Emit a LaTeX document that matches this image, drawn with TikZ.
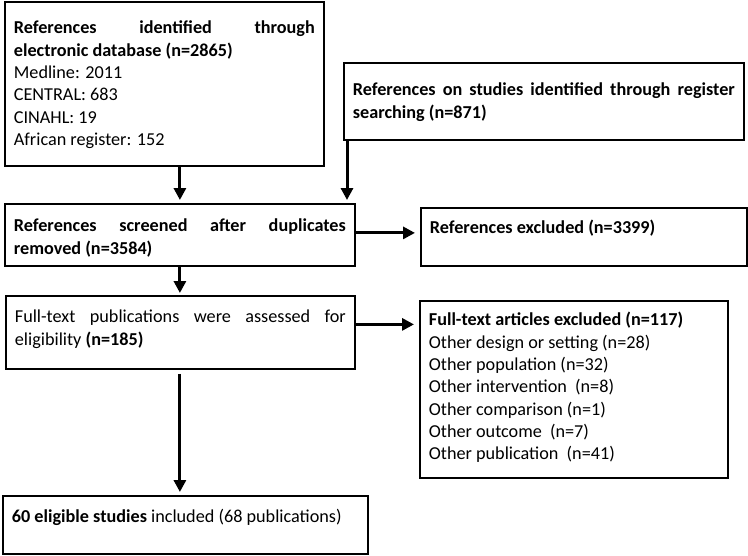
\documentclass[tikz,border=0pt]{standalone}
\usepackage{fontspec}
\setmainfont{Carlito}
\usetikzlibrary{arrows.meta}

\begin{document}
\begin{tikzpicture}[x=1pt,y=-1pt,
	box/.style={draw, line width=1.8pt, anchor=north west, inner xsep=9pt, inner ysep=0pt, align=justify, font=\fontsize{18.2pt}{22.3pt}\selectfont},
	arr/.style={line width=3pt, -{Triangle[length=12pt,width=12pt]}}]
\useasboundingbox (0,0) rectangle (748,555);
\node[box, text width=301pt, text height=32pt, text depth=132pt] (db) at (4,1)
	{\textbf{References identified through\linebreak electronic database (n=2865)}\\ Medline: 2011\\ CENTRAL: 683\\ CINAHL: 19\\ African register: 152};
\node[box, text width=382pt, text height=33pt, text depth=44pt] (reg) at (343,62)
	{\textbf{References on studies identified through register\linebreak searching (n=871)}};
\node[box, text width=332pt, text height=28pt, text depth=34pt] (scr) at (4,203)
	{\textbf{References screened after duplicates\linebreak removed (n=3584)}};
\node[box, text width=308pt, text height=26pt, text depth=32pt] (exc) at (420,207)
	{\textbf{References excluded (n=3399)}};
\node[box, text width=331pt, text height=27pt, text depth=46pt] (ft) at (5,295)
	{Full-text publications were assessed for\linebreak eligibility \textbf{(n=185)}};
\node[box, text width=290pt, text height=25pt, text depth=152pt] (fte) at (419,300)
	{\textbf{Full-text articles excluded (n=117)}\\ Other design or setting (n=28)\\ Other population (n=32)\\ Other intervention~~(n=8)\\ Other comparison (n=1)\\ Other outcome~~(n=7)\\ Other publication~~(n=41)};
\node[box, text width=347pt, text height=27pt, text depth=31pt] (inc) at (2,495)
	{\textbf{60 eligible studies} included (68 publications)};
\draw[arr, shorten >=3pt] (scr.north |- db.south) -- (scr.north);
\draw[arr, shorten >=3pt] ([xshift=4pt]reg.south west) -- ([xshift=4pt]reg.south west |- scr.north);
\draw[arr, shorten >=5pt] ([yshift=2pt]scr.east) -- ([yshift=2pt]scr.east -| exc.west);
\draw[arr, shorten >=2pt] (scr.south) -- (ft.north -| scr.south);
\draw[arr, shorten >=5pt] ([yshift=8pt]ft.east) -- ([yshift=8pt]ft.east -| fte.west);
\draw[arr, shorten <=4pt, shorten >=3pt] (ft.south -| scr.north) -- (inc.north -| scr.north);
\end{tikzpicture}
\end{document}
